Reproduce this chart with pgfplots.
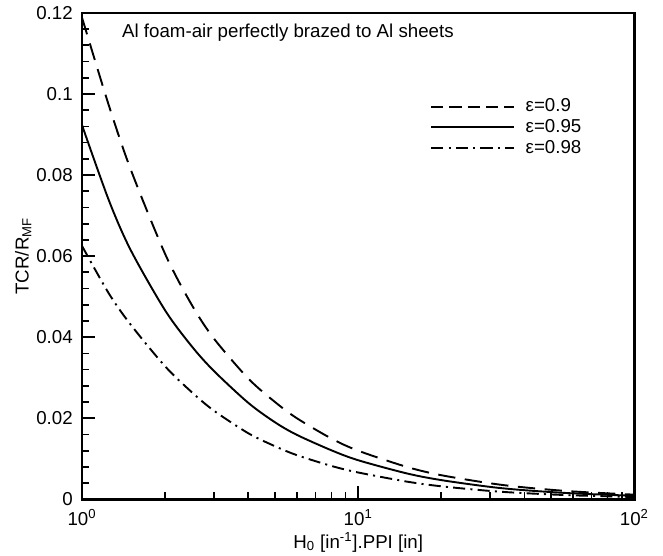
\documentclass[border=0pt]{standalone}
\usepackage{pgfplots}
\pgfplotsset{compat=1.18}
\usepackage{fontspec}
\setmainfont{Liberation Sans}

\pgfplotstableread{
x      y
1      0.1188
1.25   0.0972
1.5    0.0814
2      0.0605
2.5    0.0479
3      0.0397
4      0.0298
5      0.0240
6      0.0200
8      0.0150
10     0.0120
15     0.0080
20     0.00596
30     0.00397
40     0.00295
60     0.00195
100    0.00116
}\epsnine

\pgfplotstableread{
x      y
1      0.0923
1.25   0.0738
1.5    0.0615
2      0.0466
2.5    0.0377
3      0.0317
4      0.0238
5      0.0190
6      0.0159
8      0.0121
10     0.00965
15     0.0064
20     0.00475
30     0.00308
40     0.00226
60     0.00148
100    0.00088
}\epsninefive

\pgfplotstableread{
x      y
1      0.0625
1.25   0.0508
1.5    0.0431
2      0.0328
2.5    0.0264
3      0.0219
4      0.0163
5      0.0131
6      0.0109
8      0.00824
10     0.00663
15     0.00438
20     0.00322
30     0.00208
40     0.00153
60     0.00099
100    0.00058
}\epsnineeight

\begin{document}
\fontsize{10.8}{13}\selectfont
\begin{tikzpicture}
\begin{axis}[
  xmode=log, xmin=1, xmax=100, ymin=0, ymax=0.12,
  scale only axis, width=319pt, height=281pt,
  axis line style={line width=1.4pt},
  tick align=inside, tick pos=left,
  xtick={1,10,100},
  xticklabels={10\textsuperscript{0},10\textsuperscript{1},10\textsuperscript{2}},
  ytick={0,0.02,0.04,0.06,0.08,0.1,0.12},
  yticklabels={0,0.02,0.04,0.06,0.08,0.1,0.12},
  minor y tick num=4,
  major tick length=7.5pt, minor tick length=4pt,
  every tick/.style={black, line width=1pt},
  ticklabel style={font=\fontsize{10.8}{13}\selectfont},
  xticklabel shift=2pt,
  yticklabel shift=1.6pt,
  xlabel={H\textsubscript{0} [in\textsuperscript{-1}].PPI [in]},
  ylabel={TCR/R\textsubscript{MF}},
  xlabel style={inner sep=0pt, yshift=0pt},
  ylabel style={inner sep=0pt, yshift=-1pt},
  clip=true,
  legend cell align=left,
  legend style={draw=none, fill=none, at={(rel axis cs:0.630,0.826)}, anchor=north west,
    inner xsep=0pt, inner ysep=0pt, row sep=1.8pt,
    nodes={inner sep=0.5pt, font=\fontsize{10.8}{13}\selectfont}},
  legend image code/.code={\draw[#1] (0pt,0pt) -- (48pt,0pt);},
]
\addplot[black, line width=1.1pt, dash pattern=on 10pt off 5.5pt, smooth, forget plot] table[x=x,y=y]{\epsnine};
\addplot[black, line width=1.1pt, smooth, forget plot] table[x=x,y=y]{\epsninefive};
\addplot[black, line width=1.1pt, dash pattern=on 7pt off 3pt on 1.2pt off 3pt, smooth, forget plot] table[x=x,y=y]{\epsnineeight};
\addlegendimage{black, line width=1.1pt, dash pattern=on 7pt off 3.5pt}
\addlegendentry{\hspace{5.5pt}ε=0.9}
\addlegendimage{black, line width=1.1pt}
\addlegendentry{\hspace{5.5pt}ε=0.95}
\addlegendimage{black, line width=1.1pt, dash pattern=on 7pt off 3pt on 1.2pt off 3pt}
\addlegendentry{\hspace{5.5pt}ε=0.98}
\node[anchor=north west, inner sep=0pt] at (rel axis cs:0.072,0.978) {Al foam-air perfectly brazed to Al sheets};
\end{axis}
\path (current bounding box.south west) ++(-8.7pt,-2pt);
\path (current bounding box.north east) ++(4.6pt,0pt);
\end{tikzpicture}
\end{document}
